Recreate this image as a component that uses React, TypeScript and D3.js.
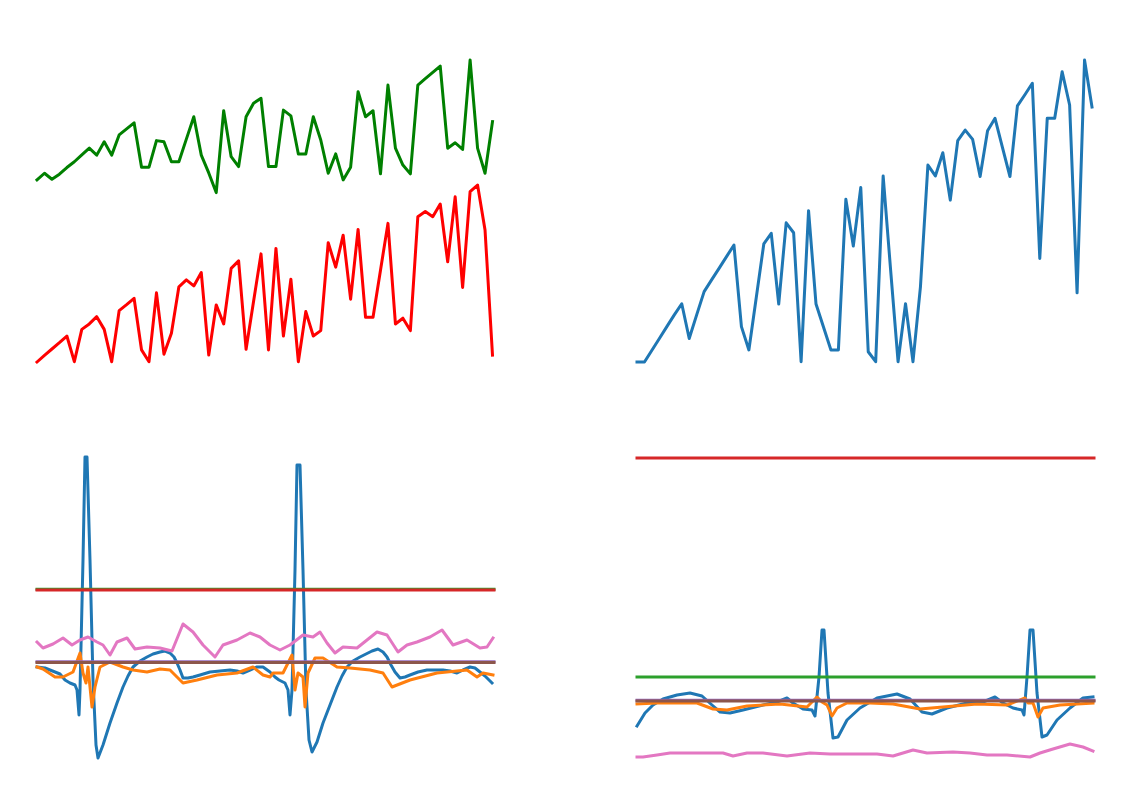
import * as d3 from "d3";

// ── top panels: 62 samples each ──
const topGreen = [
  60.3, 62.5, 60.5, 62.2, 64.4, 66.3, 68.6, 70.8, 68.5, 72.9,
  68.5, 75.2, 77.2, 79.2, 64.5, 64.5, 73.3, 72.9, 66.3, 66.3,
  73.8, 81.2, 68.5, 62.6, 56.1, 83.2, 68.0, 64.7, 81.2, 85.7,
  87.3, 64.7, 64.7, 83.4, 81.5, 68.9, 68.9, 81.2, 73.5, 62.5,
  68.9, 60.3, 64.5, 89.5, 81.2, 83.2, 62.3, 91.7, 70.8, 65.2,
  62.3, 91.7, 93.8, 95.9, 98.0, 70.8, 72.6, 70.4, 100, 70.8,
  62.5, 79.6,
];

const topRed = [
  0, 2.2, 4.3, 6.4, 8.6, 0.1, 10.8, 12.6, 15.0, 10.8,
  0.1, 17.0, 19.0, 21.1, 4.0, 0.1, 22.9, 2.6, 9.5, 24.9,
  27.2, 25.2, 29.6, 2.3, 18.9, 12.6, 31.0, 33.5, 4.2, 20.0,
  35.8, 4.0, 37.6, 8.6, 27.4, 0.1, 16.7, 8.6, 10.4, 39.5,
  31.4, 42.0, 20.8, 43.9, 14.8, 14.8, 30.4, 45.9, 12.6, 14.5,
  10.4, 48.1, 49.8, 48.1, 52.3, 33.2, 54.7, 24.7, 56.4, 58.6,
  43.7, 2.3,
];

const topBlue = [
  0, 0, 3.9, 7.8, 11.7, 15.6, 19.3, 7.8, 15.6, 23.3,
  27.2, 31.0, 34.9, 38.7, 11.7, 4.0, 21.5, 39.1, 42.6, 19.2,
  46.1, 42.8, 0.1, 50.1, 19.2, 11.6, 4.0, 4.0, 53.9, 38.4,
  57.8, 3.4, 0.1, 61.6, 30.5, 0.1, 19.3, 0.1, 24.9, 65.2,
  61.6, 69.3, 53.6, 73.3, 76.8, 73.7, 61.4, 76.6, 80.7, 71.0,
  61.4, 84.8, 88.5, 92.3, 34.3, 80.7, 80.7, 96.1, 85.1, 22.9,
  100, 84.4,
];

type Pt = [number, number]; // [sample, mV]

// ── bottom-left signals ──
const leftBlue: Pt[] = [
  [0, -0.04], [8, -0.05], [13, -0.07], [18, -0.09], [23, -0.11], [28, -0.17],
  [33, -0.2], [38, -0.22], [40, -0.27], [42, -0.52], [43, -0.27], [46, 1.03],
  [48, 2.06], [50, 2.06], [53, 1.03], [56, -0.17], [59, -0.82], [61, -0.95],
  [66, -0.82], [73, -0.6], [80, -0.4], [86, -0.24], [91, -0.13], [96, -0.04],
  [103, 0.02], [110, 0.06], [116, 0.09], [123, 0.11], [128, 0.12], [133, 0.1],
  [137, 0.06], [140, 0.0], [143, -0.07], [146, -0.15], [151, -0.15], [156, -0.14],
  [163, -0.12], [173, -0.09], [183, -0.08], [193, -0.07], [200, -0.08], [206, -0.1],
  [213, -0.07], [220, -0.04], [226, -0.04], [233, -0.09], [238, -0.14], [242, -0.17],
  [248, -0.2], [251, -0.27], [253, -0.52], [255, -0.27], [258, 0.93], [260, 1.98],
  [263, 1.98], [266, 0.93], [269, -0.27], [272, -0.77], [275, -0.89], [280, -0.79],
  [286, -0.6], [293, -0.42], [300, -0.24], [305, -0.13], [310, -0.04], [316, 0.02],
  [323, 0.06], [329, 0.09], [335, 0.12], [341, 0.14], [346, 0.11], [350, 0.06],
  [354, -0.02], [358, -0.09], [363, -0.15], [368, -0.14], [373, -0.12], [381, -0.09],
  [390, -0.07], [398, -0.07], [406, -0.07], [413, -0.08], [420, -0.1], [426, -0.07],
  [433, -0.04], [438, -0.05], [443, -0.09], [448, -0.13], [455, -0.2],
];

const leftOrange: Pt[] = [
  [0, -0.04], [6, -0.06], [18, -0.14], [26, -0.14], [36, -0.09], [43, 0.1],
  [46, -0.1], [49, -0.2], [51, -0.04], [55, -0.44], [58, -0.24], [63, -0.04],
  [73, 0.01], [86, -0.04], [96, -0.07], [110, -0.09], [123, -0.06], [133, -0.07],
  [146, -0.2], [160, -0.17], [180, -0.12], [200, -0.1], [216, -0.04], [226, -0.12],
  [233, -0.14], [236, -0.1], [246, -0.1], [255, 0.08], [258, -0.27], [261, -0.1],
  [266, -0.14], [268, -0.44], [271, -0.1], [278, 0.05], [286, 0.05], [300, -0.04],
  [313, -0.05], [333, -0.07], [346, -0.1], [355, -0.24], [373, -0.17], [400, -0.1],
  [430, -0.07], [440, -0.14], [446, -0.1], [456, -0.12],
];

const leftGreen: Pt[] = [[0, 0.737], [457, 0.737]];
const leftRed: Pt[] = [[0, 0.73], [457, 0.73]];
const leftPurple: Pt[] = [[0, 0.013], [457, 0.013]];
const leftBrown: Pt[] = [[0, 0.005], [457, 0.005]];

const leftPink: Pt[] = [
  [0, 0.21], [6, 0.15], [16, 0.19], [26, 0.25], [35, 0.18], [43, 0.23], [51, 0.26],
  [60, 0.21], [66, 0.18], [73, 0.08], [80, 0.21], [90, 0.25], [98, 0.14], [110, 0.16],
  [123, 0.15], [135, 0.12], [146, 0.39], [156, 0.31], [166, 0.18], [178, 0.06],
  [186, 0.18], [200, 0.23], [213, 0.3], [223, 0.26], [233, 0.18], [243, 0.13],
  [253, 0.18], [266, 0.28], [276, 0.26], [283, 0.31], [290, 0.2], [298, 0.1],
  [306, 0.16], [320, 0.15], [330, 0.23], [340, 0.31], [350, 0.28], [361, 0.11],
  [370, 0.18], [380, 0.21], [393, 0.26], [405, 0.33], [416, 0.18], [430, 0.23],
  [443, 0.15], [450, 0.16], [456, 0.25],
];

// ── bottom-right signals ──
const rightBlue: Pt[] = [
  [0, -0.24], [8, -0.11], [16, -0.03], [26, 0.03], [40, 0.07], [53, 0.09], [65, 0.06],
  [75, -0.03], [83, -0.1], [93, -0.11], [106, -0.08], [126, -0.03], [140, 0.0],
  [150, 0.04], [156, -0.01], [166, -0.07], [175, -0.08], [178, -0.14], [182, 0.25],
  [185, 0.72], [187, 0.72], [191, 0.09], [196, -0.36], [201, -0.35], [210, -0.18],
  [223, -0.06], [240, 0.04], [260, 0.08], [273, 0.03], [285, -0.1], [295, -0.12],
  [310, -0.06], [330, -0.01], [346, 0.0], [358, 0.05], [366, -0.01], [376, -0.06],
  [385, -0.08], [387, -0.13], [390, 0.25], [393, 0.72], [396, 0.72], [400, 0.09],
  [405, -0.35], [410, -0.33], [420, -0.18], [433, -0.06], [446, 0.04], [456, 0.05],
];

const rightOrange: Pt[] = [
  [0, -0.02], [20, -0.01], [60, -0.01], [76, -0.07], [90, -0.08], [110, -0.04],
  [143, -0.02], [170, -0.05], [180, 0.05], [185, 0.0], [190, -0.03], [195, -0.14],
  [200, -0.06], [210, -0.01], [233, -0.01], [256, -0.02], [283, -0.07], [306, -0.05],
  [340, -0.02], [370, -0.03], [388, 0.04], [391, -0.01], [396, -0.01], [401, -0.15],
  [406, -0.06], [423, -0.03], [456, -0.01],
];

const rightGreen: Pt[] = [[0, 0.25], [457, 0.25]];
const rightRed: Pt[] = [[0, 2.44], [457, 2.44]];
const rightPurple: Pt[] = [[0, 0.018], [457, 0.018]];
const rightBrown: Pt[] = [[0, 0.01], [457, 0.01]];

const rightPink: Pt[] = [
  [0, -0.55], [6, -0.55], [20, -0.53], [33, -0.51], [60, -0.51], [73, -0.51],
  [86, -0.51], [96, -0.54], [110, -0.51], [126, -0.51], [150, -0.54], [173, -0.51],
  [193, -0.52], [213, -0.52], [240, -0.52], [256, -0.54], [276, -0.48], [290, -0.51],
  [316, -0.5], [333, -0.51], [350, -0.53], [370, -0.53], [393, -0.55], [403, -0.51],
  [416, -0.47], [433, -0.42], [446, -0.45], [456, -0.49],
];

const TAB = d3.schemeCategory10;
const LW = 3;

const xTopL = d3.scaleLinear().domain([0, 61]).range([37, 492.5]);
const xTopR = d3.scaleLinear().domain([0, 61]).range([637, 1092]);
const yTop = d3.scaleLinear().domain([0, 100]).range([362, 60]);
const xBotL = d3.scaleLinear().domain([0, 457]).range([37, 494]);
const xBotR = d3.scaleLinear().domain([0, 457]).range([637, 1094]);
const yBotL = d3.scaleLinear().domain([-1.1, 2.2]).range([773, 443]);
const yBotR = d3.scaleLinear().domain([-0.6, 2.6]).range([762, 442]);

const seqPath = (vals: number[], x: d3.ScaleLinear<number, number>) =>
  d3.line<number>().x((_, i) => x(i)).y((d) => yTop(d))(vals) || "";

const ptPath = (
  pts: Pt[],
  x: d3.ScaleLinear<number, number>,
  y: d3.ScaleLinear<number, number>
) => d3.line<Pt>().x((d) => x(d[0])).y((d) => y(d[1]))(pts) || "";

export default function App() {
  const top = [
    { d: seqPath(topGreen, xTopL), c: "green" },
    { d: seqPath(topRed, xTopL), c: "red" },
    { d: seqPath(topBlue, xTopR), c: TAB[0] },
  ];

  // draw order follows the tab10 cycle
  const leftSeries = [leftBlue, leftOrange, leftGreen, leftRed, leftPurple, leftBrown, leftPink];
  const rightSeries = [rightBlue, rightOrange, rightGreen, rightRed, rightPurple, rightBrown, rightPink];

  const bottom = [
    ...leftSeries.map((s, i) => ({ d: ptPath(s, xBotL, yBotL), c: TAB[i] })),
    ...rightSeries.map((s, i) => ({ d: ptPath(s, xBotR, yBotR), c: TAB[i] })),
  ];

  return (
    <div style={{ position: "absolute", left: 0, top: 0 }}>
      <svg width={1148} height={812} style={{ display: "block", background: "#fff" }}>
        {[...top, ...bottom].map((l, i) => (
          <path
            key={i}
            d={l.d}
            fill="none"
            stroke={l.c}
            strokeWidth={LW}
            strokeLinejoin="round"
            strokeLinecap="square"
          />
        ))}
      </svg>
    </div>
  );
}
